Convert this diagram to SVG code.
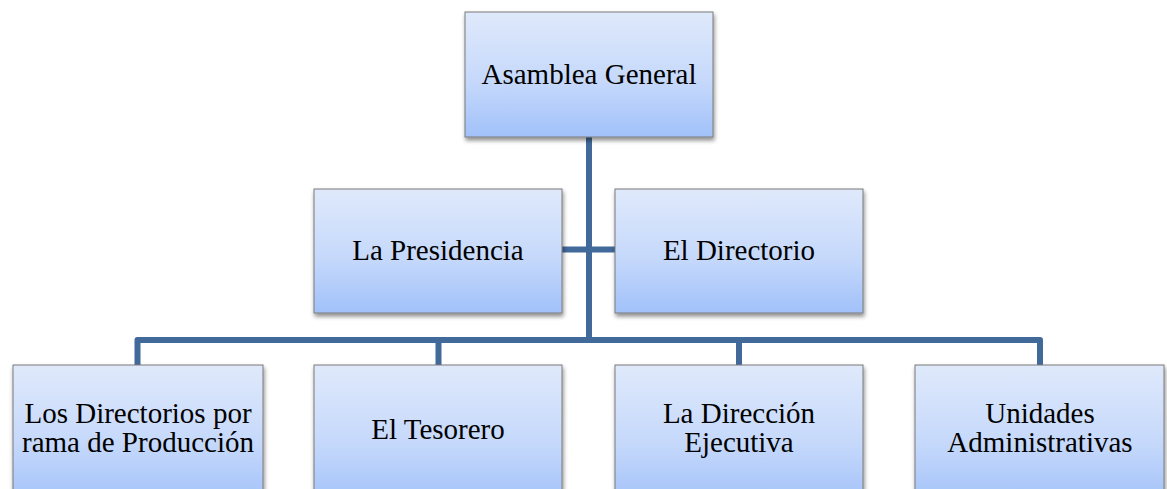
<svg xmlns="http://www.w3.org/2000/svg" width="1167" height="489" viewBox="0 0 1167 489">
<defs>
<linearGradient id="g" x1="0" y1="0" x2="0" y2="1">
<stop offset="0" stop-color="#dfe9fb"/>
<stop offset="0.55" stop-color="#c6d9fb"/>
<stop offset="1" stop-color="#a1c1f9"/>
</linearGradient>
<filter id="sh" x="-10%" y="-10%" width="130%" height="130%">
<feDropShadow dx="1" dy="3" stdDeviation="2" flood-color="#000" flood-opacity="0.45"/>
</filter>
</defs>
<style>
.box{fill:url(#g);stroke:#7a7a7a;stroke-width:1;filter:url(#sh)}
.t{font-family:"Liberation Serif","Times New Roman",serif;font-size:29px;fill:#000;text-anchor:middle}
.c{fill:none;stroke:#41699a;stroke-width:6;stroke-linejoin:round}
</style>
<rect width="1167" height="489" fill="#fff"/>
<g id="connectors">
<path class="c" d="M589,137 V340"/>
<path class="c" d="M562,249.5 H615"/>
<path class="c" d="M137.5,365 V340 H1040 V365"/>
<path class="c" d="M438.5,340 V365"/>
<path class="c" d="M739,340 V365"/>
</g>
<g id="asamblea">
<rect class="box" x="465" y="12" width="248" height="125"/>
<text class="t" x="589" y="84">Asamblea General</text>
</g>
<g id="presidencia">
<rect class="box" x="314" y="189" width="248" height="124"/>
<text class="t" x="438" y="260">La Presidencia</text>
</g>
<g id="directorio">
<rect class="box" x="615" y="189" width="248" height="124"/>
<text class="t" x="739" y="260">El Directorio</text>
</g>
<g id="directorios">
<rect class="box" x="13" y="365" width="250" height="140"/>
<text class="t" x="138" y="423">Los Directorios por</text>
<text class="t" x="138" y="452">rama de Producción</text>
</g>
<g id="tesorero">
<rect class="box" x="314" y="365" width="248" height="140"/>
<text class="t" x="438" y="439">El Tesorero</text>
</g>
<g id="direccion">
<rect class="box" x="615" y="365" width="248" height="140"/>
<text class="t" x="739" y="423">La Dirección</text>
<text class="t" x="739" y="452">Ejecutiva</text>
</g>
<g id="unidades">
<rect class="box" x="915" y="365" width="249" height="140"/>
<text class="t" x="1040" y="423">Unidades</text>
<text class="t" x="1040" y="452">Administrativas</text>
</g>
</svg>
